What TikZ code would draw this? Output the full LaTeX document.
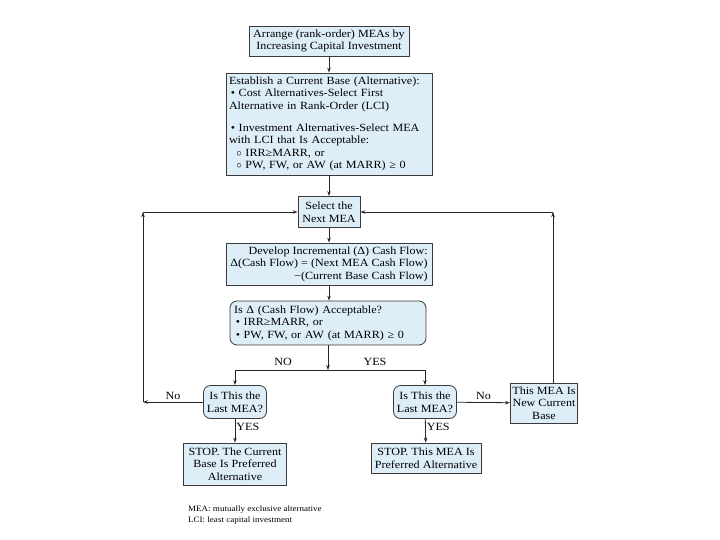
\documentclass[tikz,border=0pt]{standalone}
\usepackage{fontspec}
\setmainfont{Liberation Serif}[FakeStretch=1.1]
\usetikzlibrary{arrows.meta,positioning}
\definecolor{boxfill}{HTML}{DDEEF8}
\definecolor{boxline}{HTML}{3A3A3A}
\tikzset{
  box/.style={draw=boxline, line width=0.8pt, fill=boxfill, inner xsep=3pt, inner ysep=2pt, font=\fontsize{11}{12.6}\selectfont},
  rbox/.style={box, rounded corners=7pt},
  conn/.style={line width=0.8pt, draw=black!85, -{Stealth[length=5pt,width=3.5pt]}},
  plain/.style={line width=0.8pt, draw=black!85},
  lbl/.style={font=\fontsize{11}{12.6}\selectfont, inner sep=1pt}
}
\begin{document}
\begin{tikzpicture}[x=1pt,y=-1pt]
\useasboundingbox (0,0) rectangle (720,540);
\node[box, minimum width=160pt, minimum height=30pt, align=center] (top) at (329,41) {Arrange (rank-order) MEAs by\\Increasing Capital Investment};
\node[box, minimum width=206pt, minimum height=102pt, inner xsep=2pt, text width=200pt, align=left] (est) at (329,124) {Establish a Current Base (Alternative):\\
\,• Cost Alternatives-Select First\\
Alternative in Rank-Order (LCI)\\[9pt]
\,• Investment Alternatives-Select MEA\\
with LCI that Is Acceptable:\\
\ \ $\circ$ IRR≥MARR, or\\
\ \ $\circ$ PW, FW, or AW (at MARR) ≥ 0};
\node[box, minimum width=62pt, minimum height=31pt, align=center] (sel) at (329,212) {Select the\\Next MEA};
\node[box, minimum width=206pt, minimum height=42pt, inner xsep=2pt, align=right] (dev) at (329,264) {Develop Incremental (Δ) Cash Flow:\\
Δ(Cash Flow) = (Next MEA Cash Flow)\\
−(Current Base Cash Flow)};
\node[rbox, minimum width=196pt, minimum height=44pt, text width=188pt, align=left] (acc) at (328,323) {Is Δ (Cash Flow) Acceptable?\\
\,• IRR≥MARR, or\\
\,• PW, FW, or AW (at MARR) ≥ 0};
\coordinate (split) at (328,370);
\coordinate (sl) at (235,370);
\coordinate (sr) at (425,370);
\node[rbox, minimum width=63pt, minimum height=33pt, inner xsep=2pt, align=center] (dl) at (235,402) {Is This the\\Last MEA?};
\node[rbox, minimum width=63pt, minimum height=33pt, inner xsep=2pt, align=center] (dr) at (425,402) {Is This the\\Last MEA?};
\node[box, minimum width=60pt, minimum height=40pt, inner xsep=2pt, align=center] (nb) at (544,403) {This MEA Is\\New Current\\Base};
\node[box, minimum width=103pt, minimum height=42pt, align=center] (stl) at (235,464) {STOP. The Current\\Base Is Preferred\\Alternative};
\node[box, minimum width=110pt, minimum height=30pt, align=center] (str) at (426,458) {STOP. This MEA Is\\Preferred Alternative};
\coordinate (lc) at (143,402);
\coordinate (lt) at (143,212);
\coordinate (rb) at (553,383);
\coordinate (rt) at (553,212);
% connectors
\draw[conn] (top) -- (est);
\draw[conn] (est) -- (sel);
\draw[conn] (sel) -- (dev);
\draw[conn] (dev.south -| sel) -- (acc.north -| sel);
\draw[conn] (acc.south -| split) -- (split);
\draw[plain] (sl) -- (sr);
\draw[conn] (sl) -- (dl);
\draw[conn] (sr) -- (dr);
\draw[conn] (dl) -- node[lbl, right, pos=0.35] {YES} (stl);
\draw[conn] (dr) -- node[lbl, right, pos=0.35] {YES} (str);
\draw[conn] (dl) -- node[lbl, above=1pt, pos=0.5] {No} (lc);
\draw[conn] (lc) -- (lt);
\draw[conn] (lt) -- (sel);
\draw[conn] (dr) -- node[lbl, above=1pt, pos=0.5] {No} (nb);
\draw[conn] (rb) -- (rt);
\draw[conn] (rt) -- (sel);
\node[lbl] (no1) at (283,362) {NO};
\node[lbl] (yes1) at (375,362) {YES};
\node[lbl, font=\fontsize{8.2}{11.5}\selectfont, anchor=west, align=left] (foot) at (187,515) {MEA: mutually exclusive alternative\\LCI: least capital investment};
\end{tikzpicture}
\end{document}
